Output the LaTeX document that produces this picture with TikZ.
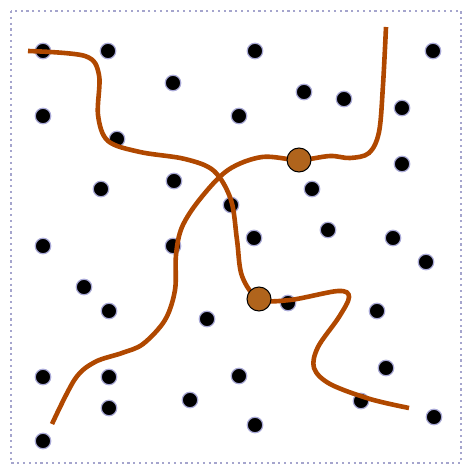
\documentclass[tikz,border=0pt]{standalone}
\begin{document}
\begin{tikzpicture}[x=1pt,y=-1pt,
  dot/.style={circle,fill=black,draw=dotrim,line width=1.2pt,minimum size=15.5pt,inner sep=0pt},
  hub/.style={circle,fill=hubfill,draw=black,line width=1pt,minimum size=24pt,inner sep=0pt},
  route/.style={draw=routec,line width=4.6pt,line cap=butt},
  frame/.style={draw=framec,line width=2pt,dash pattern=on 2.2pt off 3.6pt}]
\definecolor{dotrim}{RGB}{170,170,215}
\definecolor{hubfill}{RGB}{176,100,28}
\definecolor{routec}{RGB}{176,72,0}
\definecolor{framec}{RGB}{165,165,205}
\useasboundingbox (0,0) rectangle (463,465);
\path[frame] (11,11) rectangle (461,463);
% dots
\foreach \i/\x/\y in {1/43/51,2/108/51,3/255/51,4/433/51,5/173/83,6/304/92,7/344/99,8/402/108,
  9/43/116,10/239/116,11/117/139,12/402/164,13/101/189,14/174/181,15/312/189,16/231/205,
  17/328/230,18/254/238,19/393/238,20/43/246,21/173/246,22/426/262,23/84/287,24/288/303,
  25/109/311,26/377/311,27/207/319,28/43/377,29/109/377,30/239/376,31/386/368,32/109/408,
  33/190/400,34/361/401,35/434/417,36/255/425,37/43/441}
  \node[dot] (d\i) at (\x,\y) {};
% hubs (positions)
\coordinate (h1) at (299,160);
\coordinate (h2) at (259,299);
% routes
\draw[route] plot[smooth,tension=0.55] coordinates {(28,51) (85,56) (99,75) (98,115) (108,141) (140,152) (185,159) (214,171) (231,200) (237,240) (242,276) (h2) (290,300) (338,291) (349,297) (339,317) (318,347) (314,368) (330,384) (370,399) (409,408)};
\draw[route] plot[smooth,tension=0.55] coordinates {(386,27) (383,85) (379,132) (369,153) (350,158) (330,156) (h1) (262,157) (228,170) (200,199) (182,227) (176,255) (175,290) (165,320) (143,344) (122,353) (95,362) (75,379) (52,424)};
\node[hub] (n1) at (h1) {};
\node[hub] (n2) at (h2) {};
\end{tikzpicture}
\end{document}
